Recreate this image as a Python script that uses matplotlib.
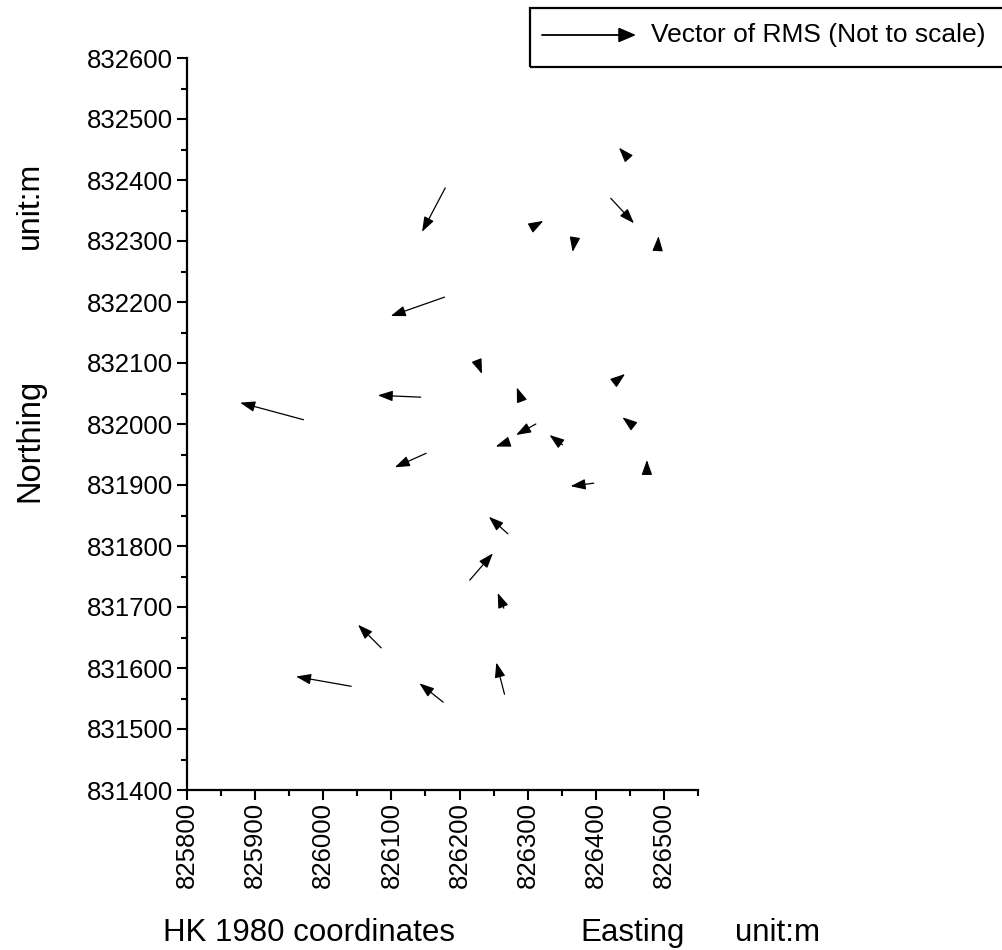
import matplotlib
matplotlib.use('Agg')
import matplotlib.pyplot as plt
from matplotlib.ticker import MultipleLocator
from matplotlib.patches import Rectangle, FancyArrowPatch

plt.rcParams['font.family'] = ['Liberation Sans', 'DejaVu Sans']

# Control point positions (HK 1980 grid, m) and RMS vector components (plot units, not to scale)
easting = [826446, 826422, 826307, 826369, 826491, 826179, 826178, 826226, 826143,
           825971, 826291, 826312, 826151, 826271, 826351, 826428, 826454, 826475,
           826397, 826271, 826215, 826265, 826266, 826085, 826041, 826176]
northing = [832438, 832370, 832323, 832303, 832288, 832387, 832208, 832102, 832044,
            832007, 832039, 832000, 831952, 831970, 831966, 832069, 831998, 831921,
            831903, 831820, 831744, 831698, 831557, 831633, 831570, 831544]
d_east = [-12, 34, 16, -3, 1, -34, -79, 7, -63,
          -93, -7, -29, -46, -18, -19, 15, -15, 0,
          -34, -28, 34, -9, -12, -34, -81, -35]
d_north = [15, -41, 10, -21, 20, -72, -31, -20, 3,
           28, 21, -18, -23, -7, 16, 13, 13, 20,
           -5, 28, 44, 25, 52, 38, 16, 31]

x_ticks = [825800, 825900, 826000, 826100, 826200, 826300, 826400, 826500]
y_ticks = [831400, 831500, 831600, 831700, 831800, 831900, 832000,
           832100, 832200, 832300, 832400, 832500, 832600]
x_limits = (825800, 826550)
y_limits = (831400, 832600)

legend_label = 'Vector of RMS (Not to scale)'
y_title = ['unit:m', 'Northing']
x_title = ['HK 1980 coordinates', 'Easting', 'unit:m']

W, H = 1003, 950
fig = plt.figure(figsize=(W / 100, H / 100), dpi=100)
fig.patch.set_facecolor('white')
ax = fig.add_axes([187 / W, 160 / H, 511 / W, 732 / H])
ax.set_xlim(*x_limits)
ax.set_ylim(*y_limits)

for e, n, de, dn in zip(easting, northing, d_east, d_north):
    ax.annotate('', xy=(e + de, n + dn), xytext=(e, n),
                arrowprops=dict(arrowstyle='-|>,head_length=0.9,head_width=0.32',
                                color='black', lw=0.9, shrinkA=0, shrinkB=0,
                                mutation_scale=10))

for s in ['top', 'right']:
    ax.spines[s].set_visible(False)
for s in ['left', 'bottom']:
    ax.spines[s].set_linewidth(1.6)

ax.set_xticks(x_ticks)
ax.set_xticklabels([str(v) for v in x_ticks], rotation=90)
ax.set_yticks(y_ticks)
ax.set_yticklabels([str(v) for v in y_ticks])
ax.xaxis.set_minor_locator(MultipleLocator(50))
ax.yaxis.set_minor_locator(MultipleLocator(50))
ax.tick_params(which='major', direction='out', length=7.2, width=1.5,
               labelsize=18.5, pad=3)
ax.tick_params(axis='x', which='major', pad=1.5)
ax.tick_params(which='minor', direction='out', length=4.3, width=1.5)

# Axis titles
fig.text(30 / W, 1 - 205 / H, y_title[0], rotation=90, ha='center', va='center', fontsize=23)
fig.text(30 / W, 1 - 440 / H, y_title[1], rotation=90, ha='center', va='center', fontsize=23.5)
fig.text(163 / W, 9 / H, x_title[0], ha='left', va='baseline', fontsize=22.5)
fig.text(580 / W, 9 / H, x_title[1], ha='left', va='baseline', fontsize=22.5)
fig.text(735 / W, 9 / H, x_title[2], ha='left', va='baseline', fontsize=22.5)

# Legend box
box = Rectangle((530 / W, 1 - 67 / H), 0.6, 59 / H, transform=fig.transFigure,
                fill=False, ec='black', lw=1.6)
fig.add_artist(box)
leg_arrow = FancyArrowPatch((542 / W, 1 - 35 / H), (636 / W, 1 - 35 / H),
                            transform=fig.transFigure,
                            arrowstyle='-|>,head_length=1.05,head_width=0.45',
                            mutation_scale=10, color='black', lw=1.3,
                            shrinkA=0, shrinkB=0)
fig.add_artist(leg_arrow)
fig.text(651 / W, 1 - 35 / H, legend_label, ha='left', va='center', fontsize=19)

fig.savefig('out.png', dpi=100, facecolor='white')
